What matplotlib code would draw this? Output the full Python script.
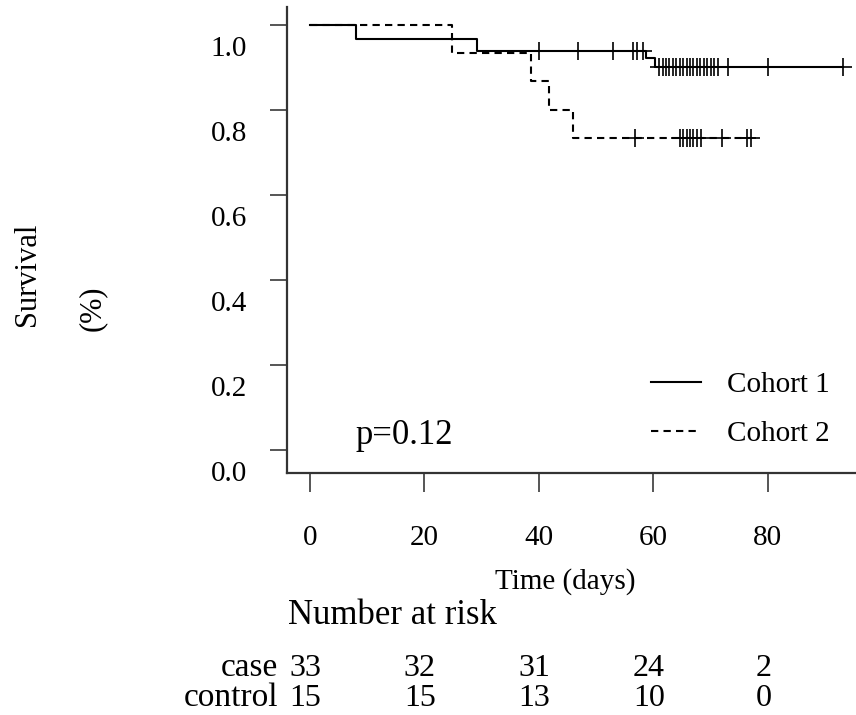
import numpy as np
import matplotlib
matplotlib.use('Agg')
import matplotlib.pyplot as plt
from matplotlib.transforms import ScaledTranslation, blended_transform_factory

plt.rcParams['font.family'] = ['Liberation Serif', 'DejaVu Serif']

# step curves (time in days, survival fraction)
case_time = [0, 8.0, 29.2, 58.8, 60.3, 93.2]
case_surv = [1.0, 0.966, 0.938, 0.921, 0.901, 0.901]
case_censor = [40.1, 46.8, 53.0, 56.5, 57.2, 58.2, 61.0, 61.6, 62.2, 62.8, 63.4,
               64.0, 64.6, 65.2, 65.8, 66.4, 67.0, 67.6, 68.2, 68.8, 69.4, 70.0,
               70.6, 71.3, 73.0, 80.0, 93.2]

ctrl_time = [0, 24.9, 38.7, 41.8, 46.0, 77.2]
ctrl_surv = [1.0, 0.933, 0.867, 0.800, 0.733, 0.733]
ctrl_censor = [56.8, 64.6, 65.2, 65.8, 66.4, 67.0, 67.6, 68.3, 72.0, 76.3, 77.1]

x_ticks = [0, 20, 40, 60, 80]
y_ticks = [0.0, 0.2, 0.4, 0.6, 0.8, 1.0]
risk_groups = ['case', 'control']
risk_case = [33, 32, 31, 24, 2]
risk_ctrl = [15, 15, 13, 10, 0]


def surv_at(t, times, surv):
    idx = np.searchsorted(times, t, side='right') - 1
    return np.asarray(surv)[idx]


fs = 21
fig = plt.figure(figsize=(8.56, 7.15), dpi=100)
ax = fig.add_axes([287 / 856, 242 / 715, 1 - 287 / 856, (708 - 242) / 715])

ax.step(case_time, case_surv, where='post', color='black', lw=1.5, label='Cohort 1')
ax.step(ctrl_time, ctrl_surv, where='post', color='black', lw=1.5,
        ls=(0, (3.5, 2.5)), label='Cohort 2')
ax.plot(case_censor, surv_at(case_censor, case_time, case_surv), ls='none',
        marker='+', ms=13, mew=1.2, color='black')
ax.plot(ctrl_censor, surv_at(ctrl_censor, ctrl_time, ctrl_surv), ls='none',
        marker='+', ms=13, mew=1.2, color='black')

ax.set_xlim(-4, 95.4)
ax.set_ylim(-0.054, 1.042)
for s in ['top', 'right']:
    ax.spines[s].set_visible(False)
for s in ['left', 'bottom']:
    ax.spines[s].set_linewidth(1.6)
    ax.spines[s].set_color('#333333')

ax.set_xticks(x_ticks)
ax.set_xticklabels([str(v) for v in x_ticks], fontsize=fs)
ax.tick_params(axis='x', length=13.5, width=1.4, color='#555555', pad=24)
ax.set_yticks(y_ticks)
ax.set_yticklabels([])
ax.tick_params(axis='y', length=12, width=1.4, color='#555555')

# y tick labels sit below their ticks in the original
ylab_tr = ax.get_yaxis_transform() + ScaledTranslation(-0.40, -0.24, fig.dpi_scale_trans)
for v in y_ticks:
    ax.text(0, v, f'{v:.1f}', transform=ylab_tr, ha='right', va='center', fontsize=fs)

ax.text(7.9, 0.035, 'p=0.12', fontsize=25, va='center')
ax.legend(loc='lower right', bbox_to_anchor=(1.0, 0.0), frameon=False,
          fontsize=fs, handlelength=1.7, labelspacing=0.75, handletextpad=0.9)

fig.text(28 / 856, 1 - 274 / 715, 'Survival', rotation=90, ha='center', va='center', fontsize=22)
fig.text(92 / 856, 1 - 308 / 715, '(%)', rotation=90, ha='center', va='center', fontsize=22)
fig.text(565 / 856, 1 - 582 / 715, 'Time (days)', ha='center', va='center', fontsize=fs)
fig.text(288 / 856, 1 - 616 / 715, 'Number at risk', ha='left', va='center', fontsize=25)

# number at risk table
risk_tr = blended_transform_factory(ax.transData, fig.transFigure)
for row, (name, vals) in enumerate(zip(risk_groups, [risk_case, risk_ctrl])):
    yy = 1 - (668 + 30 * row) / 715
    fig.text(278 / 856, yy, name, ha='right', va='center', fontsize=24)
    for t, n in zip(x_ticks, vals):
        ax.text(t - 0.8, yy, str(n), transform=risk_tr, ha='center', va='center',
                fontsize=23, clip_on=False)

fig.savefig('out.png', dpi=100)
